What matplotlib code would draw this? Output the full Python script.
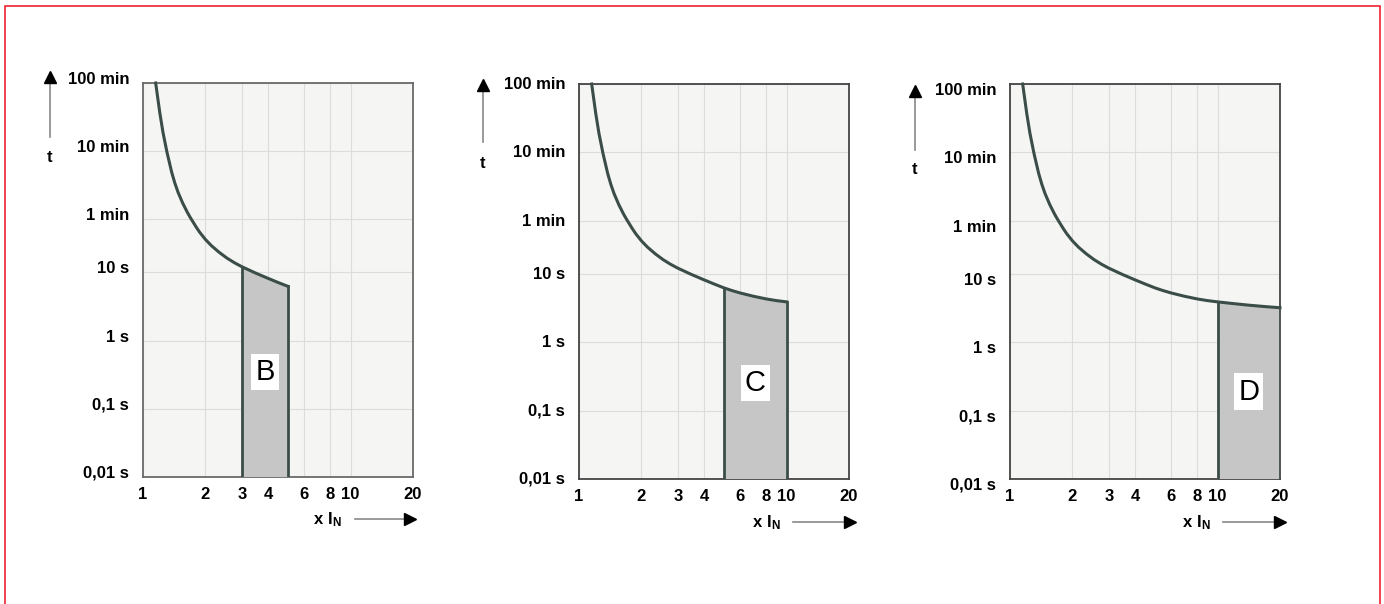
import matplotlib
matplotlib.use("Agg")
import matplotlib.pyplot as plt
import matplotlib.transforms as mtransforms
from matplotlib.lines import Line2D
from matplotlib.patches import Rectangle

plt.rcParams['font.family'] = ['Liberation Sans', 'DejaVu Sans']
plt.rcParams['mathtext.fontset'] = 'custom'
plt.rcParams['mathtext.rm'] = 'Liberation Sans'
plt.rcParams['mathtext.bf'] = 'Liberation Sans:bold'

# tripping curve (multiple of I_N, seconds)
curve_x = [1.151, 1.204, 1.248, 1.305, 1.375, 1.424, 1.475, 1.553, 1.636, 1.688,
           1.742, 1.808, 1.876, 2.0, 2.136, 2.329, 2.54, 2.76, 3.0, 3.465,
           4.0, 4.473, 5.0, 5.478, 6.0, 6.93, 8.0, 8.94, 10.0, 11.83,
           14.0, 16.7, 20.0]
curve_t = [6000, 2230, 1135, 578, 294, 204, 150, 104, 76, 64.2,
           55, 45.8, 38.8, 30.4, 24.7, 19.7, 16.2, 13.85, 12.1, 9.88,
           8.2, 7.13, 6.24, 5.69, 5.25, 4.71, 4.3, 4.07, 3.9, 3.69,
           3.5, 3.34, 3.2]

types = ['B', 'C', 'D']
band_lo = [3, 5, 10]
band_hi = [5, 10, 20]
label_t = [0.35, 0.255, 0.19]

x_ticks = [1, 2, 3, 4, 6, 8, 10, 20]
x_labels = ['1', '2', '3', '4', '6', '8', '10', '20']
y_ticks = [6000, 600, 60, 10, 1, 0.1, 0.01]
y_labels = ['100 min', '10 min', '1 min', '10 s', '1 s', '0,1 s', '0,01 s']

W, H = 1384, 604
fig = plt.figure(figsize=(W / 100, H / 100), dpi=100)


def fx(x):
    return x / W


def fy(y):
    return 1 - y / H


# axes boxes in pixels: left, top, right, bottom
boxes = [(143, 83, 413, 477), (579, 84, 849, 479), (1010, 84, 1280, 479)]
ylab_shift = [-5, -1, 5]
t_pos = [(50, 158, 137, 74), (483, 163, 142, 82), (915, 170, 150, 88)]
xl_pos = [(328, 520, 355, 413), (767, 523, 793, 853), (1197, 523, 1223, 1283)]
frame_c = ['#6a6a6a', '#444444', '#444444']

line_c = '#3b4d48'
for i, k in enumerate(types):
    l, t, r, b = boxes[i]
    ax = fig.add_axes([fx(l), fy(b), (r - l) / W, (b - t) / H])
    ax.set_xscale('log')
    ax.set_yscale('log')
    ax.set_xlim(1, 20)
    ax.set_ylim(0.01, 6000)
    ax.set_facecolor('#f5f5f3')
    ax.set_xticks(x_ticks)
    ax.set_xticklabels(x_labels, fontweight='bold', fontsize=12)
    ax.set_yticks(y_ticks)
    ax.set_yticklabels(y_labels, fontweight='bold', fontsize=12)
    ax.minorticks_off()
    ax.tick_params(length=0, pad=7)
    ax.tick_params(axis='y', pad=10)
    ax.grid(True, color='#dcdcdc', lw=0.8)
    ax.set_axisbelow(True)
    for s in ax.spines.values():
        s.set_color(frame_c[i])
        s.set_linewidth(1.3)
    off = mtransforms.ScaledTranslation(0, -ylab_shift[i] / 100, fig.dpi_scale_trans)
    for lab in ax.get_yticklabels():
        lab.set_transform(lab.get_transform() + off)

    lo, hi = band_lo[i], band_hi[i]
    cx = [x for x in curve_x if x <= hi]
    ct = [y for x, y in zip(curve_x, curve_t) if x <= hi]
    ax.plot(cx, ct, color=line_c, lw=2.2, zorder=4, clip_on=False,
            solid_joinstyle='round')

    px = [x for x in curve_x if lo <= x <= hi]
    pt = [y for x, y in zip(curve_x, curve_t) if lo <= x <= hi]
    poly_x = [lo] + px + [hi, hi]
    poly_y = [0.01] + pt + [0.01, 0.01]
    ax.fill(poly_x, poly_y, facecolor='#c6c6c6', edgecolor='none', zorder=3)
    ax.plot([lo, lo], [0.01, pt[0]], color=line_c, lw=2, zorder=4)
    ax.plot([hi, hi], [0.01, pt[-1]], color=line_c, lw=2, zorder=4)

    ax.text((lo * hi) ** 0.5, label_t[i], k, fontsize=21, ha='center', va='center',
            zorder=5, bbox=dict(facecolor='white', edgecolor='none', pad=3))

    # t arrow
    tx, ty, y0, y1 = t_pos[i]
    fig.add_artist(Line2D([fx(tx), fx(tx)], [fy(y0), fy(y1 + 4)], color='#888888', lw=1.2))
    fig.add_artist(Line2D([fx(tx)], [fy(y1 + 3)], marker='^', ms=8, color='black', lw=0))
    fig.text(fx(tx), fy(ty), 't', fontweight='bold', fontsize=12, ha='center', va='center')

    # x I_N arrow
    lx, ly, a0, a1 = xl_pos[i]
    fig.text(fx(lx), fy(ly), r'$\mathbf{x\ I_N}$', fontsize=12, ha='center', va='center')
    fig.add_artist(Line2D([fx(a0), fx(a1 - 4)], [fy(ly - 1), fy(ly - 1)], color='#888888', lw=1.2))
    fig.add_artist(Line2D([fx(a1 - 3)], [fy(ly - 1)], marker='>', ms=8, color='black', lw=0))

# red frame around the figure
fig.add_artist(Rectangle((fx(4.5), fy(620)), fx(1380 - 4.5), (620 - 6) / H,
                         transform=fig.transFigure, fill=False, edgecolor='#ee2233', lw=1.2))

fig.savefig('out.png', dpi=100)
